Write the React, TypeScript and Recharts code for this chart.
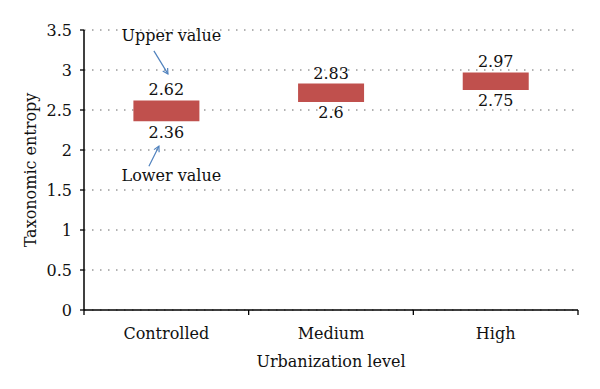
import React from 'react'
import { BarChart, Bar, XAxis, YAxis, CartesianGrid, LabelList } from 'recharts'

const levels = ['Controlled', 'Medium', 'High']
const lowerValues = [2.36, 2.6, 2.75]
const upperValues = [2.62, 2.83, 2.97]
const yTicks = [0, 0.5, 1, 1.5, 2, 2.5, 3, 3.5]

const data = levels.map((level, i) => ({ level, lower: lowerValues[i], upper: upperValues[i] }))

const FONT = 'DejaVu Serif'
const FS = 16
const ARROW = '#4F81BD'

function Arrow({ x1, y1, x2, y2 }: { x1: number; y1: number; x2: number; y2: number }) {
  const a = Math.atan2(y2 - y1, x2 - x1)
  const len = 6
  const h1 = [x2 - len * Math.cos(a - 0.5), y2 - len * Math.sin(a - 0.5)]
  const h2 = [x2 - len * Math.cos(a + 0.5), y2 - len * Math.sin(a + 0.5)]
  return (
    <g stroke={ARROW} strokeWidth={1.2} fill="none">
      <line x1={x1} y1={y1} x2={x2} y2={y2} />
      <polyline points={`${h1[0]},${h1[1]} ${x2},${y2} ${h2[0]},${h2[1]}`} />
    </g>
  )
}

// callouts drawn next to the first bar only
function Callouts(props: any) {
  const { x, y, width, height, index } = props
  if (index !== 0) return null
  const cx = Number(x) + Number(width) / 2
  const top = Math.min(Number(y), Number(y) + Number(height))
  const bottom = Math.max(Number(y), Number(y) + Number(height))
  return (
    <g>
      <text x={cx + 5} y={top - 59} textAnchor="middle" fontFamily={FONT} fontSize={FS} fill="#111">
        Upper value
      </text>
      <Arrow x1={cx - 12.5} y1={top - 49.5} x2={cx + 1.5} y2={top - 26.5} />
      <text x={cx + 5} y={bottom + 60} textAnchor="middle" fontFamily={FONT} fontSize={FS} fill="#111">
        Lower value
      </text>
      <Arrow x1={cx - 17.5} y1={bottom + 45} x2={cx - 7.5} y2={bottom + 25} />
    </g>
  )
}

function CategoryTick(props: any) {
  const { x, y, payload, index, visibleTicksCount, width } = props
  const half = payload?.offset ?? Number(width) / visibleTicksCount / 2
  return (
    <g>
      <line x1={x - half} y1={y} x2={x - half} y2={y + 5} stroke="#000" strokeWidth={1.3} />
      {index === visibleTicksCount - 1 && (
        <line x1={x + half} y1={y} x2={x + half} y2={y + 5} stroke="#000" strokeWidth={1.3} />
      )}
      <text x={x} y={y + 29} textAnchor="middle" fontFamily={FONT} fontSize={FS} fill="#111">
        {payload.value}
      </text>
    </g>
  )
}

export default function App() {
  return (
    <div style={{ width: 600, height: 389, background: '#fff' }}>
      <style>{'body{margin:0}'}</style>
      <BarChart
        width={600}
        height={389}
        data={data}
        margin={{ top: 30, right: 22, left: 0, bottom: 0 }}
        barCategoryGap="30%"
      >
        <CartesianGrid horizontal vertical={false} stroke="#666" strokeDasharray="1.5 6.5" />
        <XAxis
          dataKey="level"
          height={79}
          tickLine={false}
          tickSize={0}
          tickMargin={0}
          axisLine={{ stroke: '#000', strokeWidth: 1.5 }}
          tick={<CategoryTick />}
          interval={0}
          label={{
            value: 'Urbanization level',
            position: 'insideBottom',
            offset: 22,
            style: { fontFamily: FONT, fontSize: FS, fill: '#111' },
          }}
        />
        <YAxis
          width={84}
          domain={[0, 3.5]}
          ticks={yTicks}
          interval={0}
          tickSize={4}
          tickMargin={8}
          axisLine={{ stroke: '#000', strokeWidth: 1.5 }}
          tickLine={{ stroke: '#000', strokeWidth: 1.3 }}
          tick={{ fontFamily: FONT, fontSize: FS, fill: '#111' }}
          label={{
            value: 'Taxonomic entropy',
            angle: -90,
            position: 'insideLeft',
            offset: 30,
            style: { textAnchor: 'middle', fontFamily: FONT, fontSize: FS, fill: '#111' },
          }}
        />
        <Bar dataKey={(d: any) => [d.lower, d.upper]} fill="#C0504D" isAnimationActive={false}>
          <LabelList
            dataKey="upper"
            position="top"
            offset={5}
            style={{ fontFamily: FONT, fontSize: FS, fill: '#111' }}
          />
          <LabelList
            dataKey="lower"
            position="bottom"
            offset={5}
            style={{ fontFamily: FONT, fontSize: FS, fill: '#111' }}
          />
          <LabelList dataKey="upper" content={<Callouts />} />
        </Bar>
      </BarChart>
    </div>
  )
}
